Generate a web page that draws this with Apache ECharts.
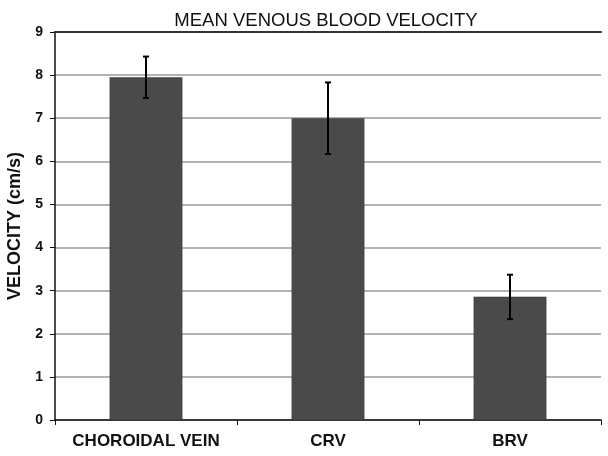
<!DOCTYPE html>
<html><head><meta charset="utf-8">
<script src="https://cdn.jsdelivr.net/npm/echarts@6/dist/echarts.min.js"></script>
<style>html,body{margin:0;padding:0;background:#fff}#c{width:608px;height:456px}</style>
</head><body><div id="c"></div>
<script>
var categories = ['CHOROIDAL VEIN', 'CRV', 'BRV'];
var meanVelocity = [7.95, 7.0, 2.86];
var errLow = [7.47, 6.17, 2.34];
var errHigh = [8.43, 7.83, 3.37];
var yTicks = [0, 1, 2, 3, 4, 5, 6, 7, 8, 9];

var chart = echarts.init(document.getElementById('c'), null, {renderer: 'canvas'});
var errData = categories.map(function (c, i) { return [i, errLow[i], errHigh[i]]; });
chart.setOption({
  animation: false,
  backgroundColor: '#fff',
  title: {
    text: 'MEAN VENOUS BLOOD VELOCITY', left: 321, top: 6, textAlign: 'center',
    textStyle: {fontFamily: 'Liberation Sans, Arial', fontSize: 18.5, fontWeight: 'normal', color: '#111'}
  },
  grid: {left: 55, right: 7, top: 32, bottom: 36, containLabel: false, outerBoundsMode: 'none'},
  xAxis: [{
    type: 'category', data: categories,
    axisLine: {lineStyle: {color: '#111', width: 1.5}},
    axisTick: {show: true, alignWithLabel: false, length: 5, lineStyle: {color: '#111'}},
    axisLabel: {interval: 0, hideOverlap: false, fontFamily: 'Liberation Sans, Arial', fontSize: 17, fontWeight: 'bold', color: '#111', margin: 13},
    splitLine: {show: false}
  }, {
    type: 'category', data: categories, position: 'top',
    axisLine: {show: true, lineStyle: {color: '#333', width: 2}},
    axisTick: {show: false}, axisLabel: {show: false}
  }],
  yAxis: {
    type: 'value', min: yTicks[0], max: yTicks[yTicks.length - 1], interval: 1,
    name: 'VELOCITY (cm/s)', nameLocation: 'middle', nameGap: 29, nameRotate: 90,
    nameTextStyle: {fontFamily: 'Liberation Sans, Arial', fontSize: 18, fontWeight: 'bold', color: '#111'},
    axisLine: {show: true, lineStyle: {color: '#111', width: 1.5}},
    axisTick: {show: true, length: 5, lineStyle: {color: '#111'}},
    axisLabel: {fontFamily: 'Liberation Sans, Arial', fontSize: 14, fontWeight: 'bold', color: '#111', margin: 12},
    splitLine: {show: true, lineStyle: {color: '#9a9a9a', width: 1.5}}
  },
  series: [{
    type: 'bar', data: meanVelocity, barWidth: '40%',
    itemStyle: {color: '#4a4a4a', borderColor: '#3a3a3a', borderWidth: 0.5}
  }, {
    type: 'custom', data: errData, z: 10,
    renderItem: function (params, api) {
      var x = api.value(0);
      var lo = api.coord([x, api.value(1)]);
      var hi = api.coord([x, api.value(2)]);
      var hw = 3;
      var st = {stroke: '#000', lineWidth: 2};
      return {type: 'group', children: [
        {type: 'line', shape: {x1: lo[0], y1: lo[1], x2: hi[0], y2: hi[1]}, style: st},
        {type: 'line', shape: {x1: lo[0] - hw, y1: lo[1], x2: lo[0] + hw, y2: lo[1]}, style: st},
        {type: 'line', shape: {x1: hi[0] - hw, y1: hi[1], x2: hi[0] + hw, y2: hi[1]}, style: st}
      ]};
    }
  }]
});
</script></body></html>
